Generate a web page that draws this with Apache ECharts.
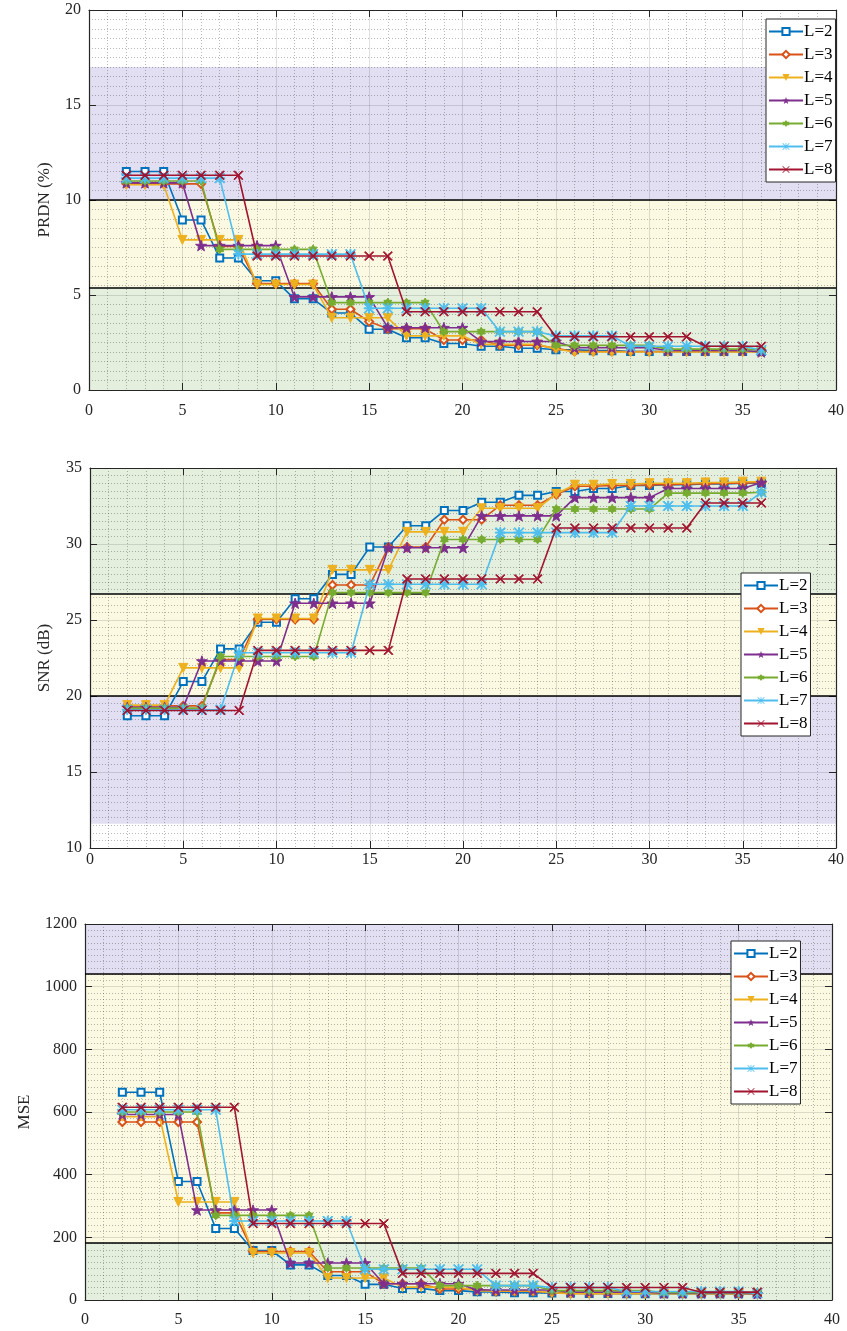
<!DOCTYPE html>
<html><head><meta charset="utf-8">
<script src="https://cdn.jsdelivr.net/npm/echarts@6/dist/echarts.min.js"></script>
<style>html,body{margin:0;padding:0;background:#fff}#c{width:847px;height:1331px}</style>
</head><body><div id="c"></div>
<script>
const xValues = [2,3,4,5,6,7,8,9,10,11,12,13,14,15,16,17,18,19,20,21,22,23,24,25,26,27,28,29,30,31,32,33,34,35,36];
const seriesNames = ['L=2','L=3','L=4','L=5','L=6','L=7','L=8'];

// PRDN (%)
const prdL2 = [11.5,11.5,11.5,8.95,8.95,6.95,6.95,5.75,5.75,4.8,4.8,4.05,4.05,3.2,3.2,2.75,2.75,2.45,2.45,2.3,2.3,2.2,2.2,2.12,2.12,2.07,2.07,2.03,2.03,2.03,2.03,2.03,2.03,2.03,2.03];
const prdL3 = [10.85,10.85,10.85,10.85,10.85,7.55,7.55,5.6,5.6,5.6,5.6,4.25,4.25,3.6,3.22,3.22,3.22,2.63,2.63,2.63,2.36,2.36,2.36,2.19,2.03,2.03,2.03,2.03,2.03,2.03,2.03,2.03,2.03,2.03,2.03];
const prdL4 = [10.8,10.8,10.8,7.9,7.9,7.9,7.9,5.55,5.55,5.55,5.55,3.8,3.8,3.8,3.8,2.85,2.85,2.85,2.85,2.4,2.4,2.4,2.4,2.16,2.0,2.0,2.0,2.0,2.0,2.0,2.0,2.0,2.0,2.0,2.0];
const prdL5 = [10.9,10.9,10.9,10.9,7.6,7.6,7.6,7.6,7.6,4.9,4.9,4.9,4.9,4.9,3.28,3.28,3.28,3.28,3.28,2.55,2.55,2.55,2.55,2.55,2.22,2.22,2.22,2.22,2.22,2.08,2.08,2.08,2.08,2.08,2.0];
const prdL6 = [11.0,11.0,11.0,11.0,11.0,7.4,7.4,7.4,7.4,7.4,7.4,4.6,4.6,4.6,4.6,4.6,4.6,3.07,3.07,3.07,3.07,3.07,3.07,2.35,2.35,2.35,2.35,2.35,2.35,2.15,2.15,2.15,2.15,2.15,2.12];
const prdL7 = [11.15,11.15,11.15,11.15,11.15,11.15,7.15,7.15,7.15,7.15,7.15,7.15,7.15,4.3,4.3,4.3,4.3,4.3,4.3,4.3,3.07,3.07,3.07,2.85,2.85,2.85,2.85,2.3,2.3,2.3,2.3,2.3,2.3,2.3,2.1];
const prdL8 = [11.3,11.3,11.3,11.3,11.3,11.3,11.3,7.05,7.05,7.05,7.05,7.05,7.05,7.05,7.05,4.12,4.12,4.12,4.12,4.12,4.12,4.12,4.12,2.8,2.8,2.8,2.8,2.8,2.8,2.8,2.8,2.3,2.3,2.3,2.3];

// SNR (dB)
const snrL2 = [18.7,18.7,18.7,20.95,20.95,23.1,23.1,24.85,24.85,26.4,26.4,28.0,28.0,29.8,29.8,31.2,31.2,32.2,32.2,32.75,32.75,33.2,33.2,33.45,33.45,33.65,33.65,33.85,33.85,33.9,33.9,33.95,33.95,34.0,34.0];
const snrL3 = [19.35,19.35,19.35,19.35,19.35,22.4,22.4,25.05,25.05,25.05,25.05,27.3,27.3,27.3,29.8,29.8,29.8,31.6,31.6,31.6,32.55,32.55,32.55,33.25,33.8,33.8,33.85,33.85,33.9,33.9,33.95,33.95,34.0,34.0,34.05];
const snrL4 = [19.4,19.4,19.4,21.85,21.85,21.85,21.85,25.1,25.1,25.1,25.1,28.3,28.3,28.3,28.3,30.8,30.8,30.8,30.8,32.35,32.35,32.35,32.35,33.3,33.9,33.9,33.95,33.95,34.0,34.0,34.0,34.05,34.05,34.1,34.1];
const snrL5 = [19.25,19.25,19.25,19.25,22.3,22.3,22.3,22.3,22.3,26.1,26.1,26.1,26.1,26.1,29.75,29.75,29.75,29.75,29.75,31.85,31.85,31.85,31.85,31.85,33.05,33.05,33.05,33.05,33.05,33.65,33.65,33.65,33.65,33.65,34.05];
const snrL6 = [19.2,19.2,19.2,19.2,19.2,22.6,22.6,22.6,22.6,22.6,22.6,26.8,26.8,26.8,26.8,26.8,26.8,30.3,30.3,30.3,30.3,30.3,30.3,32.3,32.3,32.3,32.3,32.3,32.3,33.35,33.35,33.35,33.35,33.35,33.4];
const snrL7 = [19.1,19.1,19.1,19.1,19.1,19.1,22.85,22.85,22.85,22.85,22.85,22.85,22.85,27.35,27.35,27.35,27.35,27.35,27.35,27.35,30.75,30.75,30.75,30.75,30.75,30.75,30.75,32.5,32.5,32.5,32.5,32.5,32.5,32.5,33.4];
const snrL8 = [19.05,19.05,19.05,19.05,19.05,19.05,19.05,23.0,23.0,23.0,23.0,23.0,23.0,23.0,23.0,27.7,27.7,27.7,27.7,27.7,27.7,27.7,27.7,31.05,31.05,31.05,31.05,31.05,31.05,31.05,31.05,32.7,32.7,32.7,32.7];

// MSE
const mseL2 = [663,663,663,378,378,228,228,158,158,112,112,78,78,50,50,37,37,30,30,26,26,23,23,22,22,21,21,20,20,20,20,20,20,20,20];
const mseL3 = [568,568,568,568,568,278,278,155,155,155,155,90,90,90,52,52,52,35,35,35,28,28,28,24,21,21,21,21,21,21,21,21,21,21,21];
const mseL4 = [585,585,585,313,313,313,313,150,150,150,150,70,70,70,70,41,41,41,41,29,29,29,29,23,20,20,20,20,20,20,20,20,20,20,20];
const mseL5 = [592,592,592,592,287,287,287,287,287,118,118,118,118,118,52,52,52,52,52,32,32,32,32,32,25,25,25,25,25,22,22,22,22,22,20];
const mseL6 = [600,600,600,600,600,270,270,270,270,270,270,102,102,102,102,102,102,46,46,46,46,46,46,30,30,30,30,30,30,23,23,23,23,23,23];
const mseL7 = [607,607,607,607,607,607,252,252,252,252,252,252,252,98,98,98,98,98,98,98,46,46,46,40,40,40,40,27,27,27,27,27,27,27,22];
const mseL8 = [615,615,615,615,615,615,615,244,244,244,244,244,244,244,244,85,85,85,85,85,85,85,85,40,40,40,40,40,40,40,40,25,25,25,25];

const prdSets = [prdL2,prdL3,prdL4,prdL5,prdL6,prdL7,prdL8];
const snrSets = [snrL2,snrL3,snrL4,snrL5,snrL6,snrL7,snrL8];
const mseSets = [mseL2,mseL3,mseL4,mseL5,mseL6,mseL7,mseL8];

// band limits
const prdBands = {purple:[10,17], yellow:[5.4,10], green:[0,5.4], lines:[10,5.4]};
const snrBands = {green:[26.7,35], yellow:[20,26.7], purple:[11.6,20], lines:[26.7,20]};
const mseBands = {purple:[1040,1200], yellow:[182,1040], green:[0,182], lines:[1040,182]};

const colors = ['#0072BD','#D95319','#EDB120','#7E2F8E','#77AC30','#4DBEEE','#A2142F'];
const C_PURPLE = '#E1DFF1', C_YELLOW = '#FBF9E1', C_GREEN = '#E4EFDD';
const FONT = 'Liberation Serif';

const starPath = 'path://M10,0 L12.35,6.76 L19.51,6.91 L13.8,11.24 L15.88,18.09 L10,14 L4.12,18.09 L6.2,11.24 L0.49,6.91 L7.65,6.76 Z';
const hexPath = 'path://M10,0 L18.66,15 L1.34,15 Z M10,20 L1.34,5 L18.66,5 Z';
const xPath = 'path://M0,1.5 L1.5,0 L20,18.5 L18.5,20 Z M18.5,0 L20,1.5 L1.5,20 L0,18.5 Z';
const astPath = 'path://M0,1.5 L1.5,0 L20,18.5 L18.5,20 Z M18.5,0 L20,1.5 L1.5,20 L0,18.5 Z M9,0 L11,0 L11,20 L9,20 Z M0,9 L20,9 L20,11 L0,11 Z';
const symbols = [
  {symbol:'emptyRect', size:7, rotate:0},
  {symbol:'emptyDiamond', size:8, rotate:0},
  {symbol:'triangle', size:9, rotate:180},
  {symbol:starPath, size:11, rotate:0},
  {symbol:hexPath, size:9, rotate:0},
  {symbol:astPath, size:10, rotate:0},
  {symbol:xPath, size:9, rotate:0}
];

const grids = [
  {left:89, top:10, width:747, height:380},
  {left:90, top:468, width:747, height:380},
  {left:85, top:924, width:747, height:376}
];
const xLabelMargin = [13, 4, 12];
const yCfg = [
  {min:0, max:20, interval:5, minorSplit:10, name:'PRDN (%)', gap:36},
  {min:10, max:35, interval:5, minorSplit:10, name:'SNR (dB)', gap:37},
  {min:0, max:1200, interval:200, minorSplit:10, name:'MSE', gap:52}
];
const legendPos = [
  {left:766, top:19},
  {left:741, top:573},
  {left:731, top:941}
];

const axisColor = '#262626';
const xAxes = [], yAxes = [], series = [], legends = [];
for (let g = 0; g < 3; g++) {
  xAxes.push({
    gridIndex:g, type:'value', min:0, max:40, interval:5,
    axisLine:{show:true, onZero:false, lineStyle:{color:axisColor, width:1.2}},
    axisTick:{show:true, inside:true, length:7, lineStyle:{color:axisColor}},
    axisLabel:{show:true, fontFamily:FONT, fontSize:16, color:axisColor, margin:xLabelMargin[g]},
    splitLine:{show:true, lineStyle:{color:'rgba(0,0,0,0.12)', width:1}},
    minorTick:{show:false, splitNumber:5},
    minorSplitLine:{show:true, lineStyle:{color:'rgba(0,0,0,0.28)', width:1, type:[1,2]}}
  });
  xAxes.push({
    gridIndex:g, type:'value', min:0, max:40, interval:5, position:'top',
    axisLine:{show:true, onZero:false, lineStyle:{color:axisColor, width:1.2}},
    axisTick:{show:true, inside:true, length:7, lineStyle:{color:axisColor}},
    axisLabel:{show:false}, splitLine:{show:false}
  });
  const yc = yCfg[g];
  yAxes.push({
    gridIndex:g, type:'value', min:yc.min, max:yc.max, interval:yc.interval,
    name:yc.name, nameLocation:'middle', nameRotate:90, nameGap:yc.gap,
    nameTextStyle:{fontFamily:FONT, fontSize:17, color:axisColor},
    axisLine:{show:true, onZero:false, lineStyle:{color:axisColor, width:1.2}},
    axisTick:{show:true, inside:true, length:7, lineStyle:{color:axisColor}},
    axisLabel:{show:true, fontFamily:FONT, fontSize:16, color:axisColor, margin:8, formatter:v => String(v)},
    splitLine:{show:true, lineStyle:{color:'rgba(0,0,0,0.12)', width:1}},
    minorTick:{show:false, splitNumber:yc.minorSplit},
    minorSplitLine:{show:true, lineStyle:{color:'rgba(0,0,0,0.28)', width:1, type:[1,2]}}
  });
  yAxes.push({
    gridIndex:g, type:'value', min:yc.min, max:yc.max, interval:yc.interval, position:'right',
    axisLine:{show:true, onZero:false, lineStyle:{color:axisColor, width:1.2}},
    axisTick:{show:true, inside:true, length:7, lineStyle:{color:axisColor}},
    axisLabel:{show:false}, splitLine:{show:false}
  });
}

function bandSeries(g, bands) {
  const areas = [];
  const cmap = {purple:C_PURPLE, yellow:C_YELLOW, green:C_GREEN};
  ['purple','yellow','green'].forEach(k => {
    if (bands[k]) areas.push([{yAxis:bands[k][0], xAxis:0, itemStyle:{color:cmap[k]}}, {yAxis:bands[k][1], xAxis:40}]);
  });
  return {
    type:'line', name:'_band'+g, xAxisIndex:g*2, yAxisIndex:g*2, data:[], z:-1, silent:true,
    markArea:{silent:true, z:-1, data:areas, itemStyle:{opacity:1}},
    markLine:{silent:true, z:2, symbol:'none', label:{show:false},
      lineStyle:{color:'#000', width:1.6, type:'solid'},
      data:bands.lines.map(v => ({yAxis:v}))}
  };
}
series.push(bandSeries(0, prdBands));
series.push(bandSeries(1, snrBands));
series.push(bandSeries(2, mseBands));

const sets = [prdSets, snrSets, mseSets];
for (let g = 0; g < 3; g++) {
  for (let i = 0; i < 7; i++) {
    const s = symbols[i];
    series.push({
      type:'line', name:seriesNames[i], xAxisIndex:g*2, yAxisIndex:g*2,
      data: xValues.map((x, k) => [x, sets[g][i][k]]),
      symbol:s.symbol, symbolSize:s.size, symbolRotate:s.rotate, symbolKeepAspect:true,
      showAllSymbol:true, z:3+i,
      lineStyle:{color:colors[i], width:1.6},
      itemStyle:{color:colors[i], borderColor:colors[i]},
      emphasis:{disabled:true}, animation:false
    });
  }
  legends.push({
    data:seriesNames, orient:'vertical', left:legendPos[g].left, top:legendPos[g].top,
    itemWidth:34, itemHeight:9, itemGap:6,
    backgroundColor:'#fff', borderColor:axisColor, borderWidth:1, borderRadius:0,
    padding:[4,3,4,2],
    textStyle:{fontFamily:FONT, fontSize:17, color:'#000', padding:[0,0,0,-4]},
    selectedMode:false
  });
}

const chart = echarts.init(document.getElementById('c'), null, {renderer:'canvas'});
chart.setOption({
  animation:false,
  backgroundColor:'#fff',
  color:colors,
  grid:grids,
  xAxis:xAxes,
  yAxis:yAxes,
  legend:legends,
  series:series
});
</script></body></html>
